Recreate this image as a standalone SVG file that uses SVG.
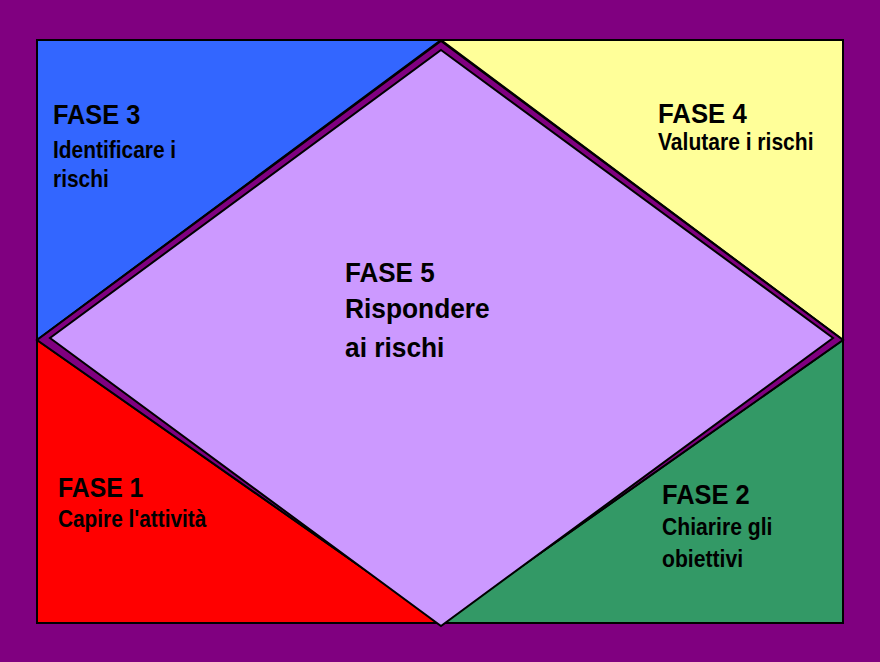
<svg xmlns="http://www.w3.org/2000/svg" width="880" height="662" viewBox="0 0 880 662">
  <style>
    .edge { stroke: #000; stroke-width: 2; stroke-linejoin: miter; }
    .title { font-family: "Liberation Sans", Arial, sans-serif; font-weight: bold; font-size: 28px; fill: #000; }
    .sub { font-family: "Liberation Sans", Arial, sans-serif; font-weight: bold; font-size: 23px; fill: #000; }
    .big { font-family: "Liberation Sans", Arial, sans-serif; font-weight: bold; font-size: 28px; fill: #000; }
  </style>
  <!-- background -->
  <rect x="0" y="0" width="880" height="662" fill="#800080"/>

  <!-- corner triangles; labels are narrowed horizontally like a condensed face -->
  <g id="fase3">
    <polygon class="edge" points="37,40 441,40 37,340" fill="#3366FF"/>
    <text class="title" transform="translate(53,124) scale(0.905,1)">FASE 3</text>
    <text class="sub" transform="translate(53,158) scale(0.91,1)">Identificare i</text>
    <text class="sub" transform="translate(53,187) scale(0.91,1)">rischi</text>
  </g>
  <g id="fase4">
    <polygon class="edge" points="441,40 843,40 843,340" fill="#FFFF99"/>
    <text class="title" transform="translate(658,123) scale(0.92,1)">FASE 4</text>
    <text class="sub" transform="translate(658,150) scale(0.915,1)">Valutare i rischi</text>
  </g>
  <g id="fase1">
    <polygon class="edge" points="37,340 441,623 37,623" fill="#FF0000"/>
    <text class="title" transform="translate(58,497) scale(0.885,1)">FASE 1</text>
    <text class="sub" transform="translate(58,527) scale(0.905,1)">Capire l'attività</text>
  </g>
  <g id="fase2">
    <polygon class="edge" points="843,340 843,623 441,623" fill="#339966"/>
    <text class="title" transform="translate(662,504) scale(0.91,1)">FASE 2</text>
    <text class="sub" transform="translate(662,535) scale(0.92,1)">Chiarire gli</text>
    <text class="sub" transform="translate(662,567) scale(0.92,1)">obiettivi</text>
  </g>

  <!-- central diamond with its purple rim -->
  <g id="fase5">
    <polygon class="edge" points="441,41 843,340 441,623 37,340" fill="#800080"/>
    <polygon class="edge" points="441,50 833,338 441,626 50,338" fill="#CC99FF"/>
    <text class="big" transform="translate(345,282) scale(0.93,1)">FASE 5</text>
    <text class="big" transform="translate(345,318) scale(0.94,1)">Rispondere</text>
    <text class="big" transform="translate(345,357) scale(0.94,1)">ai rischi</text>
  </g>
</svg>
